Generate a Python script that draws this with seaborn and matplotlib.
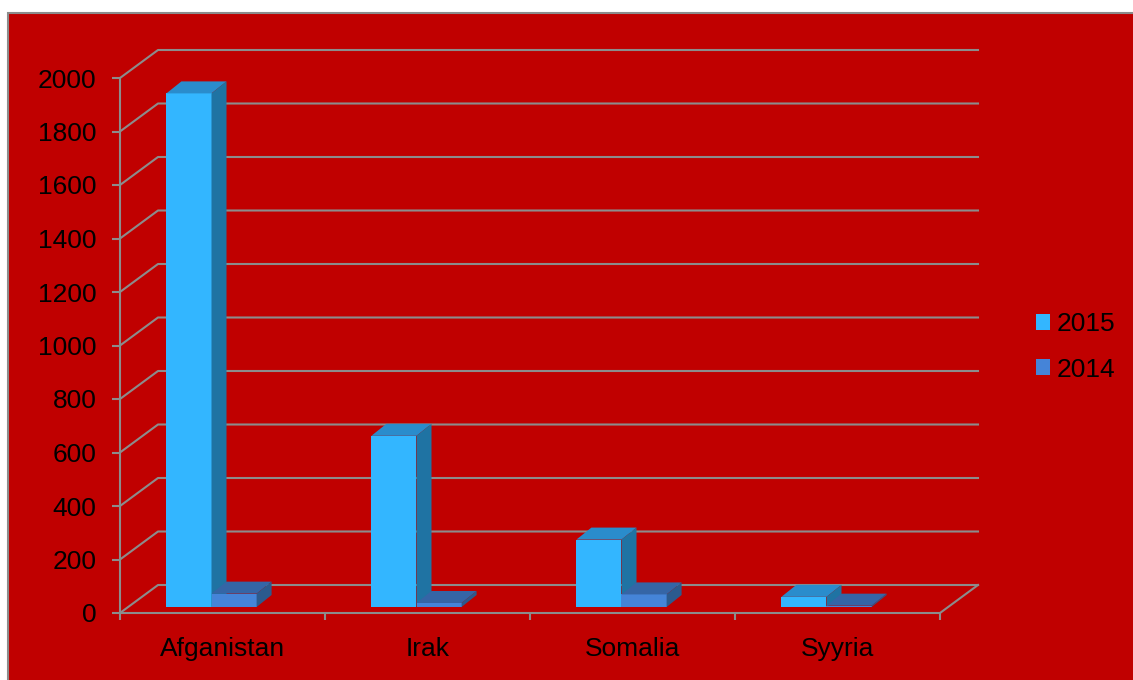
import numpy as np
import pandas as pd
import matplotlib
matplotlib.use("Agg")
import matplotlib.pyplot as plt
from matplotlib.patches import Polygon, Rectangle, Patch
from matplotlib.transforms import ScaledTranslation
import seaborn as sns

# Data
countries = ["Afganistan", "Irak", "Somalia", "Syyria"]
years = ["2015", "2014"]
values_2015 = [1920, 640, 252, 38]
values_2014 = [50, 15, 47, 5]
y_ticks = list(range(0, 2001, 200))

front_colors = {"2015": "#33b6ff", "2014": "#4584d8"}
top_colors = {"2015": "#2a8ccc", "2014": "#3565a6"}
side_colors = {"2015": "#1f73a3", "2014": "#2c5a8e"}
BG = "#c00000"
GRID = "#8c8c8c"
FS = 19

df = pd.DataFrame({
    "country": countries * 2,
    "year": [years[0]] * len(countries) + [years[1]] * len(countries),
    "value": values_2015 + values_2014,
})

plt.rcParams["font.family"] = ["Liberation Sans", "DejaVu Sans"]

W, H = 1133, 680
fig = plt.figure(figsize=(W / 100, H / 100), dpi=100)
fig.patch.set_facecolor("white")

# red panel with a grey frame
fig.add_artist(Rectangle((8 / W, -0.05), 1.0, (H - 13) / H + 0.05,
                         transform=fig.transFigure, facecolor=BG,
                         edgecolor=GRID, lw=1.5, zorder=0))

# front plane of the plot: 820 x 535 px
ax_w, ax_h = 820, 535
ax = fig.add_axes([120 / W, (H - 613) / H, ax_w / W, ax_h / H])
ax.set_facecolor("none")

sns.barplot(data=df, x="country", y="value", hue="year", hue_order=years,
            palette=front_colors, width=0.44, gap=0, linewidth=0,
            saturation=1, legend=False, ax=ax)

xmin, xmax, ymax = -0.5, len(countries) - 0.5, 2000
ux = ax_w / (xmax - xmin)   # px per category
uy = ax_h / ymax            # px per value unit

# back wall / floor (oblique 3D look)
wx, wy = 38 / ux, 28 / uy
for v in y_ticks:
    ax.plot([xmin, xmin + wx, xmax + wx], [v, v + wy, v + wy],
            color=GRID, lw=1.5, clip_on=False, zorder=1)
ax.plot([xmax, xmax + wx], [0, wy], color=GRID, lw=1.5, clip_on=False, zorder=1)

# bar depth faces
shift = ScaledTranslation(-11 / 100, 6 / 100, fig.dpi_scale_trans)
tr = ax.transData + shift
dx, dy = 15 / ux, 12 / uy
for i, (year, cont) in enumerate(zip(years, ax.containers)):
    z = 3 + 2 * i
    for bar in cont:
        bar.set_transform(tr)
        bar.set_zorder(z)
        bar.set_clip_on(False)
        x0, w, h = bar.get_x(), bar.get_width(), bar.get_height()
        top = Polygon([(x0, h), (x0 + w, h), (x0 + w + dx, h + dy), (x0 + dx, h + dy)],
                      closed=True, transform=tr, fc=top_colors[year], lw=0,
                      zorder=z, clip_on=False)
        side = Polygon([(x0 + w, 0), (x0 + w, h), (x0 + w + dx, h + dy), (x0 + w + dx, dy)],
                       closed=True, transform=tr, fc=side_colors[year], lw=0,
                       zorder=z, clip_on=False)
        ax.add_patch(top)
        ax.add_patch(side)

ax.set_xlim(xmin, xmax)
ax.set_ylim(0, ymax)

for s in ["top", "right"]:
    ax.spines[s].set_visible(False)
for s in ["left", "bottom"]:
    ax.spines[s].set_color(GRID)
    ax.spines[s].set_linewidth(1.5)

ax.set_yticks(y_ticks)
ax.tick_params(axis="y", length=5.8, width=1.5, color=GRID, pad=11,
               labelsize=FS, labelcolor="black")
ax.set_xticks(range(len(countries)))
ax.set_xticklabels(countries)
ax.set_xticks(np.arange(xmin, xmax + 0.01, 1), minor=True)
ax.tick_params(axis="x", which="major", length=0, pad=17, labelsize=FS,
               labelcolor="black")
ax.tick_params(axis="x", which="minor", length=5, width=1.5, color=GRID)
ax.set_xlabel("")
ax.set_ylabel("")

fig.legend(handles=[Patch(fc=front_colors[y], label=y) for y in years],
           loc="center left", bbox_to_anchor=(1012 / W, (H - 347) / H),
           frameon=False, fontsize=FS, handlelength=0.55, handleheight=0.55,
           handletextpad=0.25, labelspacing=0.8)

fig.savefig("out.png", dpi=100)
